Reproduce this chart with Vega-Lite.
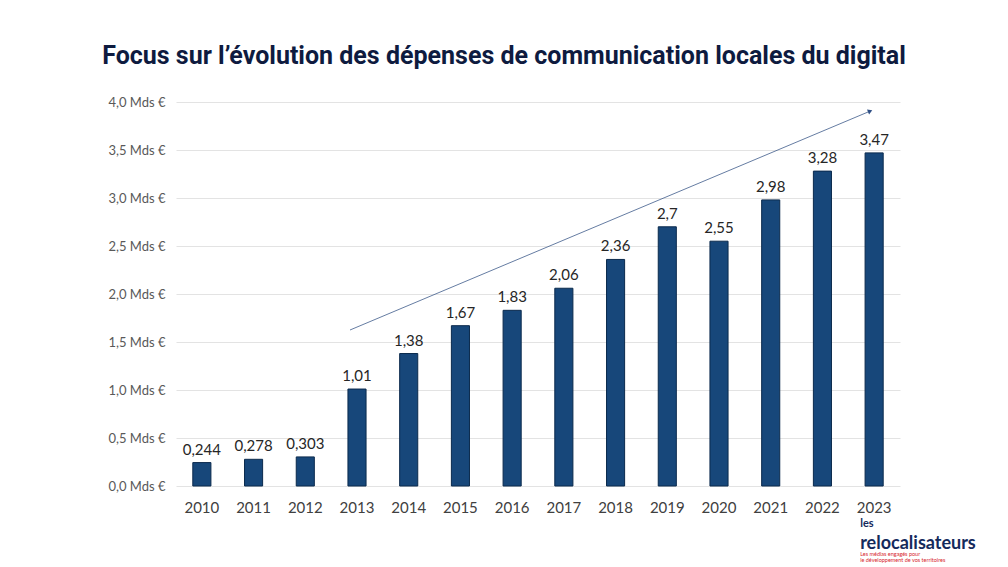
{
  "$schema": "https://vega.github.io/schema/vega-lite/v6.json",
  "width": 724,
  "height": 384,
  "autosize": {"type": "none"},
  "padding": {"left": 176, "top": 102, "right": 108, "bottom": 81},
  "background": "white",
  "title": {
    "text": "Focus sur l’évolution des dépenses de communication locales du digital",
    "font": "Roboto",
    "fontSize": 25,
    "fontWeight": "bold",
    "color": "#0E1B3F",
    "anchor": "middle",
    "dx": -34,
    "offset": 27
  },
  "config": {"view": {"stroke": null}},
  "datasets": {
    "bars": [
      {"year": "2010", "value": 0.244, "label": "0,244"},
      {"year": "2011", "value": 0.278, "label": "0,278"},
      {"year": "2012", "value": 0.303, "label": "0,303"},
      {"year": "2013", "value": 1.01, "label": "1,01"},
      {"year": "2014", "value": 1.38, "label": "1,38"},
      {"year": "2015", "value": 1.67, "label": "1,67"},
      {"year": "2016", "value": 1.83, "label": "1,83"},
      {"year": "2017", "value": 2.06, "label": "2,06"},
      {"year": "2018", "value": 2.36, "label": "2,36"},
      {"year": "2019", "value": 2.7, "label": "2,7"},
      {"year": "2020", "value": 2.55, "label": "2,55"},
      {"year": "2021", "value": 2.98, "label": "2,98"},
      {"year": "2022", "value": 3.28, "label": "3,28"},
      {"year": "2023", "value": 3.47, "label": "3,47"}
    ],
    "arrow": [
      {"year": "2013", "y": 1.625, "year2": "2023", "y2": 3.905}
    ],
    "logo": [
      {"year": "2023", "y": -0.4, "text": "les", "kind": "les"},
      {"year": "2023", "y": -0.6, "text": "relocalisateurs", "kind": "main"},
      {"year": "2023", "y": -0.71, "text": "Les médias engagés pour", "kind": "sub"},
      {"year": "2023", "y": -0.775, "text": "le développement de vos territoires", "kind": "sub"}
    ]
  },
  "layer": [
    {
      "data": {"name": "bars"},
      "mark": {"type": "bar", "color": "#17477A", "stroke": "#0B2A4D", "strokeWidth": 1},
      "encoding": {
        "x": {
          "field": "year", "type": "ordinal",
          "scale": {"paddingInner": 0.65, "paddingOuter": 0.325},
          "axis": {
            "title": null, "labelAngle": 0, "domain": false, "ticks": false,
            "labelFont": "Lato", "labelFontSize": 15, "labelColor": "#404040", "labelPadding": 14
          }
        },
        "y": {
          "field": "value", "type": "quantitative",
          "scale": {"domain": [0, 4]},
          "axis": {
            "title": null, "values": [0, 0.5, 1, 1.5, 2, 2.5, 3, 3.5, 4],
            "labelExpr": "replace(format(datum.value, '.1f'), '.', ',') + ' Mds €'",
            "domain": false, "ticks": false, "gridColor": "#E3E3E3", "gridWidth": 1,
            "labelFont": "Lato", "labelFontSize": 13, "labelColor": "#595959", "labelPadding": 11
          }
        }
      }
    },
    {
      "data": {"name": "bars"},
      "mark": {"type": "text", "baseline": "bottom", "dy": -5, "font": "Lato", "fontSize": 15, "color": "#262626"},
      "encoding": {
        "x": {"field": "year", "type": "ordinal"},
        "y": {"field": "value", "type": "quantitative"},
        "text": {"field": "label"}
      }
    },
    {
      "data": {"name": "arrow"},
      "mark": {"type": "rule", "color": "#3E5A8A", "strokeWidth": 0.8, "xOffset": -7, "x2Offset": -4},
      "encoding": {
        "x": {"field": "year", "type": "ordinal"},
        "x2": {"field": "year2"},
        "y": {"field": "y", "type": "quantitative"},
        "y2": {"field": "y2"}
      }
    },
    {
      "data": {"name": "arrow"},
      "mark": {"type": "point", "shape": "triangle-right", "filled": true, "color": "#2F4F85", "size": 28, "angle": -23, "xOffset": -4, "opacity": 1},
      "encoding": {
        "x": {"field": "year2", "type": "ordinal"},
        "y": {"field": "y2", "type": "quantitative"}
      }
    },
    {
      "data": {"name": "logo"},
      "transform": [{"filter": "datum.kind === 'les'"}],
      "mark": {"type": "text", "align": "left", "baseline": "middle", "dx": -14, "font": "Lato", "fontWeight": "bold", "fontSize": 11, "color": "#142A5C", "clip": false},
      "encoding": {
        "x": {"field": "year", "type": "ordinal"},
        "y": {"field": "y", "type": "quantitative"},
        "text": {"field": "text"}
      }
    },
    {
      "data": {"name": "logo"},
      "transform": [{"filter": "datum.kind === 'main'"}],
      "mark": {"type": "text", "align": "left", "baseline": "middle", "dx": -14, "font": "Lato", "fontWeight": "bold", "fontSize": 18, "color": "#142A5C", "clip": false},
      "encoding": {
        "x": {"field": "year", "type": "ordinal"},
        "y": {"field": "y", "type": "quantitative"},
        "text": {"field": "text"}
      }
    },
    {
      "data": {"name": "logo"},
      "transform": [{"filter": "datum.kind === 'sub'"}],
      "mark": {"type": "text", "align": "left", "baseline": "middle", "dx": -14, "font": "Lato", "fontSize": 5.5, "color": "#D7262E", "clip": false},
      "encoding": {
        "x": {"field": "year", "type": "ordinal"},
        "y": {"field": "y", "type": "quantitative"},
        "text": {"field": "text"}
      }
    }
  ]
}
